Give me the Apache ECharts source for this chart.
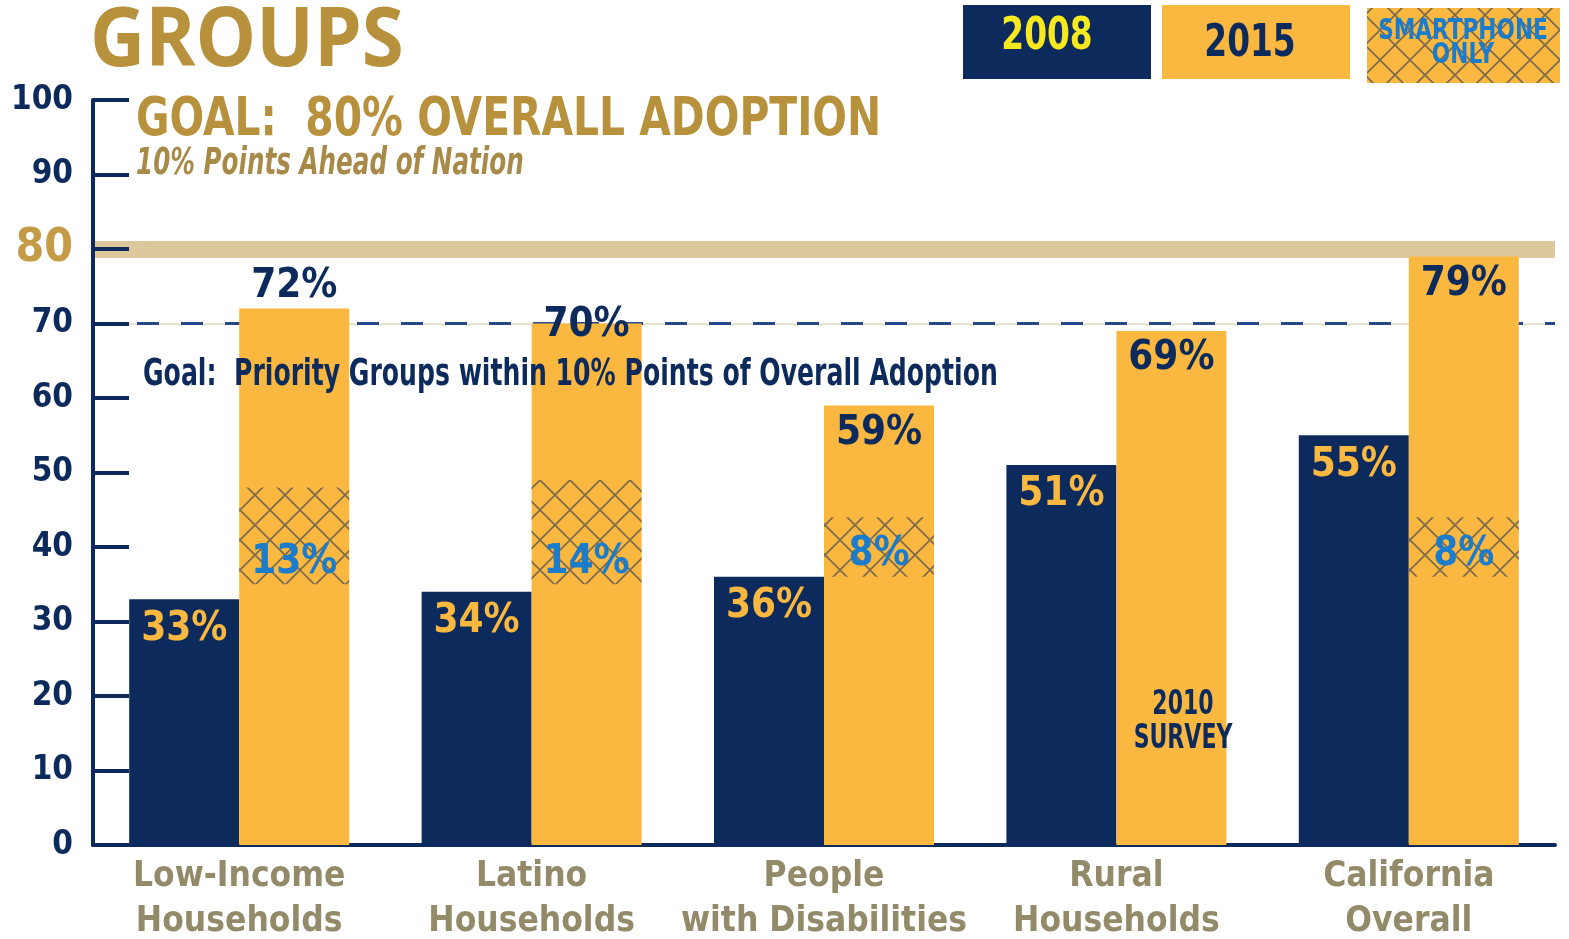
<!DOCTYPE html>
<html>
<head>
<meta charset="utf-8">
<script src="https://cdn.jsdelivr.net/npm/echarts@6/dist/echarts.min.js"></script>
<style>
  html, body { margin: 0; padding: 0; background: #fff; }
  #chart { width: 1569px; height: 939px; }
</style>
</head>
<body>
<div id="chart"></div>
<script>
// data
const categories = ["Low-Income\nHouseholds", "Latino\nHouseholds", "People\nwith Disabilities", "Rural\nHouseholds", "California\nOverall"]
const values2008 = [33, 34, 36, 51, 55]
const values2015 = [72, 70, 59, 69, 79]
const smartBase = [35, 35, 36, null, 36]
const smartOnly = [13, 14, 8, null, 8]
const overallGoal = 80
const priorityGoal = 70

const navy = "#0c2a5b"
const orange = "#fbb840"
const gold = "#b8913c"
const olive = "#928a68"
const blue = "#1b7ccc"
const narrow = '"DejaVu Sans Condensed", sans-serif'

// 2015 labels: first one sits above the bar, the others inside the top
const label2015 = [
  { position: "top", distance: 2 },
  { position: "insideTop", distance: -18 },
  { position: "insideTop", distance: 8 },
  { position: "insideTop", distance: 8 },
  { position: "insideTop", distance: 8 }
]

function makeHatch(size) {
  const c = document.createElement("canvas")
  c.width = size
  c.height = size
  const g = c.getContext("2d")
  g.strokeStyle = "#7a6a4e"
  g.lineWidth = 1.6
  g.beginPath()
  g.moveTo(0, 0)
  g.lineTo(size, size)
  g.moveTo(size, 0)
  g.lineTo(0, size)
  g.stroke()
  return c
}
const hatch = { image: makeHatch(30), repeat: "repeat" }

// condensed text helper for the free-standing captions
function caption(x, y, text, font, fill, sx, extra) {
  return Object.assign({
    type: "text", x: x, y: y, scaleX: sx, z: 10,
    style: Object.assign({ text: text, fill: fill, font: font }, extra || {})
  })
}

const mychart = echarts.init(document.getElementById("chart"))

const option = {
  animation: false,
  grid: { left: 93, right: 14, top: 100, bottom: 94, containLabel: false, outerBoundsMode: "none" },
  xAxis: [
    {
      type: "category",
      data: categories,
      axisLine: { lineStyle: { color: navy, width: 4 } },
      axisTick: { inside: true, length: 16, lineStyle: { color: navy, width: 3 } },
      axisLabel: {
        interval: 0,
        margin: 9,
        color: olive,
        fontFamily: narrow,
        fontWeight: "bold",
        fontSize: 35,
        lineHeight: 45
      }
    },
    { type: "category", data: categories, show: false }
  ],
  yAxis: {
    type: "value",
    min: 0,
    max: 100,
    interval: 10,
    z: 3,
    axisLine: { show: true, lineStyle: { color: navy, width: 4 } },
    axisTick: { show: true, inside: true, length: 36, lineStyle: { color: navy, width: 4 } },
    splitLine: { show: false },
    axisLabel: {
      margin: 20,
      formatter: v => (v === overallGoal ? "{g|" + v + "}" : "{n|" + v + "}"),
      rich: {
        n: { fontFamily: narrow, fontWeight: "bold", fontSize: 33, color: navy },
        g: { fontFamily: narrow, fontWeight: "bold", fontSize: 46, color: "#c49c48" }
      }
    }
  },
  series: [
    {
      name: "2008",
      type: "bar",
      xAxisIndex: 0,
      barWidth: 110,
      barGap: "0%",
      data: values2008,
      itemStyle: { color: navy },
      label: {
        show: true,
        position: "insideTop",
        distance: 10,
        formatter: "{c}%",
        color: orange,
        fontFamily: narrow,
        fontWeight: "bold",
        fontSize: 40
      },
      markLine: {
        z: 1,
        silent: true,
        symbol: "none",
        label: { show: false },
        data: [
          { yAxis: overallGoal, lineStyle: { color: "#dcc89c", width: 17, type: "solid" } },
          { yAxis: priorityGoal, lineStyle: { color: "#e9e2cf", width: 2, type: "solid" } },
          { yAxis: priorityGoal, lineStyle: { color: "#24488a", width: 3, type: [22, 22] } }
        ]
      }
    },
    {
      name: "2015",
      type: "bar",
      xAxisIndex: 0,
      barWidth: 110,
      barGap: "0%",
      data: values2015.map((v, i) => ({ value: v, label: label2015[i] })),
      itemStyle: { color: orange },
      label: {
        show: true,
        formatter: "{c}%",
        color: navy,
        fontFamily: narrow,
        fontWeight: "bold",
        fontSize: 40
      }
    },
    {
      name: "slot",
      type: "bar",
      xAxisIndex: 1,
      barWidth: 110,
      barGap: "0%",
      silent: true,
      data: values2008.map(() => 0),
      itemStyle: { color: "transparent" }
    },
    {
      name: "base",
      type: "bar",
      xAxisIndex: 1,
      stack: "smart",
      barWidth: 110,
      barGap: "0%",
      silent: true,
      data: smartBase,
      itemStyle: { color: "transparent" }
    },
    {
      name: "Smartphone only",
      type: "bar",
      xAxisIndex: 1,
      stack: "smart",
      barWidth: 110,
      barGap: "0%",
      data: smartOnly,
      itemStyle: { color: hatch },
      label: {
        show: true,
        position: "insideBottom",
        distance: 2,
        formatter: "{c}%",
        color: blue,
        fontFamily: narrow,
        fontWeight: "bold",
        fontSize: 40
      }
    }
  ],
  graphic: [
    caption(90, 2, "GROUPS", 'bold 82px "Open Sans", sans-serif', gold, 0.93),
    caption(136, 94, "GOAL:  80% OVERALL ADOPTION", "bold 54px " + narrow, gold, 0.84),
    caption(136, 146, "10% Points Ahead of Nation", "italic bold 37px " + narrow, "#a88a48", 0.74),
    caption(143, 356, "Goal:  Priority Groups within 10% Points of Overall Adoption", "bold 38px " + narrow, navy, 0.735),
    caption(1183, 688, "2010\nSURVEY", "bold 34px " + narrow, navy, 0.72, { align: "center", lineHeight: 34 }),
    // legend boxes
    { type: "rect", shape: { x: 963, y: 5, width: 188, height: 74 }, style: { fill: navy } },
    caption(1047, 38, "2008", "bold 44px " + narrow, "#f7e81f", 0.83, { align: "center", verticalAlign: "middle" }),
    { type: "rect", shape: { x: 1162, y: 5, width: 188, height: 74 }, style: { fill: orange } },
    caption(1250, 45, "2015", "bold 44px " + narrow, navy, 0.83, { align: "center", verticalAlign: "middle" }),
    { type: "rect", shape: { x: 1367, y: 8, width: 193, height: 75 }, style: { fill: orange } },
    { type: "rect", shape: { x: 1367, y: 8, width: 193, height: 75 }, style: { fill: hatch } },
    caption(1463, 44, "SMARTPHONE\nONLY", "bold 28px " + narrow, blue, 0.86, { align: "center", verticalAlign: "middle", lineHeight: 24 })
  ]
}
mychart.setOption(option)
</script>
</body>
</html>
